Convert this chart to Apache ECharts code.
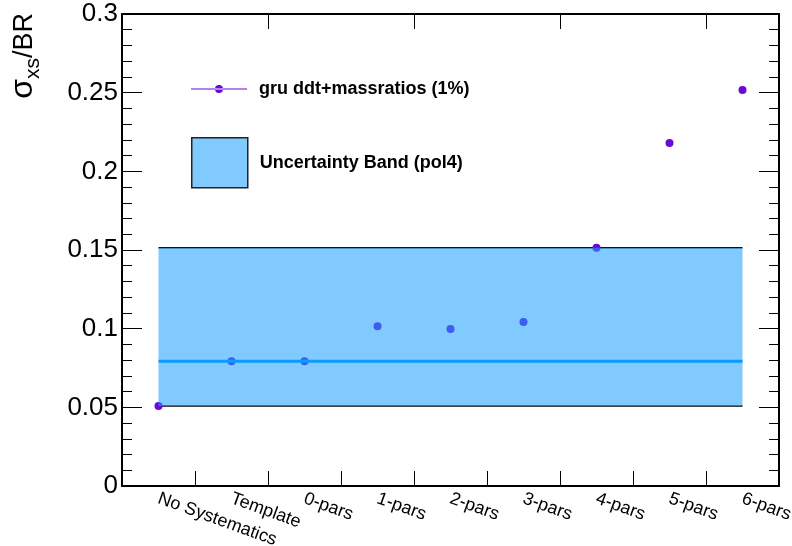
<!DOCTYPE html>
<html>
<head>
<meta charset="utf-8">
<script src="https://cdn.jsdelivr.net/npm/echarts@6/dist/echarts.min.js"></script>
<style>
html,body{margin:0;padding:0;background:#fff;}
#chart{width:792px;height:546px;}
</style>
</head>
<body>
<div id="chart"></div>
<script>
const categories = ['No Systematics', 'Template', '0-pars', '1-pars', '2-pars', '3-pars', '4-pars', '5-pars', '6-pars'];
const gruValues = [0.0509, 0.0793, 0.0793, 0.1015, 0.0998, 0.1043, 0.1515, 0.2180, 0.2517];
const bandLow = [0.0509, 0.0509, 0.0509, 0.0509, 0.0509, 0.0509, 0.0509, 0.0509, 0.0509];
const bandCenter = [0.0793, 0.0793, 0.0793, 0.0793, 0.0793, 0.0793, 0.0793, 0.0793, 0.0793];
const bandHigh = [0.1515, 0.1515, 0.1515, 0.1515, 0.1515, 0.1515, 0.1515, 0.1515, 0.1515];
const yTicks = [0, 0.05, 0.1, 0.15, 0.2, 0.25, 0.3];

const FONT = 'Liberation Sans, Arial, Helvetica, sans-serif';
const gruName = 'gru ddt+massratios (1%)';
const bandName = 'Uncertainty Band (pol4)';
const bandWidth = bandHigh.map((h, i) => h - bandLow[i]);

const chart = echarts.init(document.getElementById('chart'), null, {renderer: 'canvas'});

const catAxisBase = {
  type: 'category',
  data: categories,
  boundaryGap: true,
  axisLine: {show: true, onZero: false, lineStyle: {color: '#000', width: 2}},
  axisTick: {show: true, inside: true, length: 15, lineStyle: {color: '#000', width: 1}},
  splitLine: {show: false}
};
const valAxisBase = {
  type: 'value',
  min: 0,
  max: 0.3,
  interval: 0.05,
  axisLine: {show: true, lineStyle: {color: '#000', width: 2}},
  axisTick: {show: true, inside: true, length: 20, lineStyle: {color: '#000', width: 1}},
  minorTick: {show: true, splitNumber: 5, length: 10, lineStyle: {color: '#000', width: 1}},
  splitLine: {show: false},
  minorSplitLine: {show: false}
};

const legendText = {fontFamily: FONT, fontSize: 18, fontWeight: 'bold', color: '#000', padding: [0, 0, 0, 7]};

const option = {
  animation: false,
  backgroundColor: '#fff',
  grid: {left: 122, right: 13, top: 14, bottom: 60, containLabel: false, outerBoundsMode: 'none'},
  legend: [
    {
      data: [{name: gruName, icon: 'path://M0,3.5 L56,3.5 L56,4.5 L0,4.5 Z M24,4 A4,4 0 1,0 32,4 A4,4 0 1,0 24,4 Z', itemStyle: {color: '#6a0ad8'}}],
      left: 191, top: 80, padding: 0,
      itemWidth: 56, itemHeight: 8,
      textStyle: legendText,
      selectedMode: false
    },
    {
      data: [{name: bandName, icon: 'rect', itemStyle: {color: '#80caff', borderColor: '#222', borderWidth: 1.5}}],
      left: 191, top: 137, padding: 0,
      itemWidth: 56, itemHeight: 50,
      textStyle: legendText,
      selectedMode: false
    }
  ],
  xAxis: [
    Object.assign({}, catAxisBase, {
      position: 'bottom',
      axisLabel: {
        show: true, interval: 0, rotate: -20, margin: 12,
        fontFamily: FONT, fontSize: 18, color: '#000'
      }
    }),
    Object.assign({}, catAxisBase, {
      position: 'top',
      axisLabel: {show: false}
    })
  ],
  yAxis: [
    Object.assign({}, valAxisBase, {
      position: 'left',
      name: '{a|σ}{b|xs}{c|/BR}',
      nameLocation: 'end',
      nameRotate: 90,
      nameGap: 1,
      nameTextStyle: {
        align: 'right',
        verticalAlign: 'bottom',
        padding: [0, 0, 86, 0],
        rich: {
          a: {fontFamily: FONT, fontSize: 32, lineHeight: 32, padding: [3, 0, 0, 0], verticalAlign: 'top', color: '#000'},
          b: {fontFamily: FONT, fontSize: 21, lineHeight: 21, padding: [19, 0, 0, 0], verticalAlign: 'top', color: '#000'},
          c: {fontFamily: FONT, fontSize: 27, lineHeight: 27, padding: [7, 0, 0, 0], verticalAlign: 'top', color: '#000'}
        }
      },
      axisLabel: {
        show: true, margin: 4,
        fontFamily: FONT, fontSize: 26, color: '#000',
        customValues: yTicks,
        formatter: v => String(+v.toFixed(2))
      }
    }),
    Object.assign({}, valAxisBase, {
      position: 'right',
      axisLabel: {show: false}
    })
  ],
  series: [
    {
      name: gruName,
      type: 'scatter',
      xAxisIndex: 0, yAxisIndex: 0,
      data: gruValues,
      symbol: 'circle',
      symbolSize: 8,
      itemStyle: {color: '#6a0ad8', opacity: 1},
      z: 1
    },
    {
      name: 'bandLowEdge',
      type: 'line',
      data: bandLow,
      symbol: 'none',
      lineStyle: {color: '#000', width: 1.5},
      z: 1,
      silent: true
    },
    {
      name: 'bandHighEdge',
      type: 'line',
      data: bandHigh,
      symbol: 'none',
      lineStyle: {color: '#000', width: 1.5},
      z: 1,
      silent: true
    },
    {
      name: 'bandBase',
      type: 'line',
      stack: 'band',
      data: bandLow,
      symbol: 'none',
      lineStyle: {width: 0, opacity: 0},
      z: 2,
      silent: true
    },
    {
      name: bandName,
      type: 'line',
      stack: 'band',
      data: bandWidth,
      symbol: 'none',
      lineStyle: {width: 0, opacity: 0},
      areaStyle: {color: 'rgba(27,160,255,0.556)', opacity: 1},
      z: 2,
      silent: true
    },
    {
      name: 'bandCenter',
      type: 'line',
      data: bandCenter,
      symbol: 'none',
      lineStyle: {color: '#0c9aff', width: 3},
      z: 3,
      silent: true
    }
  ]
};
chart.setOption(option);
</script>
</body>
</html>
